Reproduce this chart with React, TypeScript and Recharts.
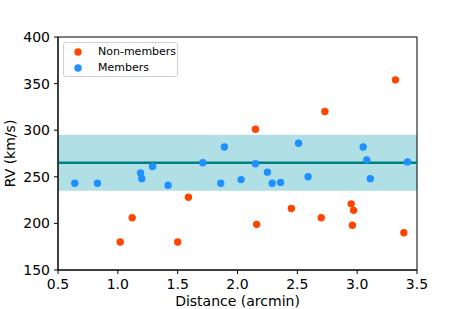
import React from 'react';
import {
  ScatterChart,
  Scatter,
  XAxis,
  YAxis,
  ReferenceArea,
  ReferenceLine,
  Legend,
} from 'recharts';

// values
const nonMemberDistance = [1.02, 1.12, 1.5, 1.59, 2.15, 2.16, 2.45, 2.7, 2.73, 2.95, 2.97, 2.96, 3.32, 3.39];
const nonMemberRV = [180, 206, 180, 228, 301, 199, 216, 206, 320, 221, 214, 198, 354, 190];

const memberDistance = [0.64, 0.83, 1.19, 1.2, 1.29, 1.42, 1.71, 1.86, 1.89, 2.03, 2.15, 2.25, 2.29, 2.36, 2.51, 2.59, 3.05, 3.08, 3.11, 3.42];
const memberRV = [243, 243, 254, 248, 261, 241, 265, 243, 282, 247, 264, 255, 243, 244, 286, 250, 282, 268, 248, 266];

const xTicks = [0.5, 1.0, 1.5, 2.0, 2.5, 3.0, 3.5];
const yTicks = [150, 200, 250, 300, 350, 400];

const meanRV = 265;
const bandLow = 235;
const bandHigh = 295;

const NON_COLOR = '#FF4500';
const MEM_COLOR = '#1E90FF';
const FONT = 'DejaVu Sans, sans-serif';

const nonMembers = nonMemberDistance.map((d, i) => ({ x: d, y: nonMemberRV[i] }));
const members = memberDistance.map((d, i) => ({ x: d, y: memberRV[i] }));

const dot = (color: string) => (props: any) =>
  <circle cx={props.cx} cy={props.cy} r={3.7} fill={color} />;

const legendItems = [
  { name: 'Non-members', color: NON_COLOR },
  { name: 'Members', color: MEM_COLOR },
];

const LegendBox = () => (
  <div
    style={{
      width: 115,
      height: 35,
      background: '#fff',
      border: '1px solid #d0d0d0',
      borderRadius: 3,
      boxSizing: 'border-box',
      fontFamily: FONT,
      fontSize: 11,
      lineHeight: '16px',
      color: '#000',
      paddingTop: 1,
      whiteSpace: 'nowrap',
    }}
  >
    {legendItems.map((it) => (
      <div key={it.name} style={{ display: 'flex', alignItems: 'center', height: 16 }}>
        <svg width={34} height={16} style={{ flexShrink: 0 }}>
          <circle cx={14} cy={8} r={3.7} fill={it.color} />
        </svg>
        <span>{it.name}</span>
      </div>
    ))}
  </div>
);

export default function App() {
  const tickStyle = { fontFamily: FONT, fontSize: 14, fill: '#000' };
  return (
    <div style={{ position: 'absolute', left: 0, top: 0, width: 463, height: 309, background: '#fff' }}>
      <ScatterChart width={463} height={309} margin={{ top: 37, right: 46, bottom: 0, left: 0 }}>
        <XAxis
          type="number"
          dataKey="x"
          domain={[0.5, 3.5]}
          ticks={xTicks}
          tickFormatter={(v: number) => v.toFixed(1)}
          height={39}
          tickSize={4}
          tickMargin={5}
          stroke="#000"
          tick={tickStyle}
          allowDataOverflow
          label={{ value: 'Distance (arcmin)', position: 'insideBottom', offset: 3, style: { fontFamily: FONT, fontSize: 14, fill: '#000' } }}
        />
        <YAxis
          type="number"
          dataKey="y"
          domain={[150, 400]}
          ticks={yTicks}
          width={58}
          tickSize={4}
          tickMargin={4}
          stroke="#000"
          tick={tickStyle}
          allowDataOverflow
          label={{ value: 'RV (km/s)', angle: -90, position: 'insideLeft', offset: 10, style: { textAnchor: 'middle', fontFamily: FONT, fontSize: 14, fill: '#000' } }}
        />
        <ReferenceArea y1={bandLow} y2={bandHigh} x1={0.5} x2={3.5} fill="#B0E0E6" fillOpacity={1} stroke="none" />
        <ReferenceLine y={meanRV} stroke="#008080" strokeWidth={2.6} />
        <Scatter name="Non-members" data={nonMembers} fill={NON_COLOR} shape={dot(NON_COLOR)} isAnimationActive={false} />
        <Scatter name="Members" data={members} fill={MEM_COLOR} shape={dot(MEM_COLOR)} isAnimationActive={false} />
        <ReferenceArea x1={0.5} x2={3.5} y1={150} y2={400} fill="none" stroke="#000" strokeWidth={1} />
        <Legend
          layout="vertical"
          align="center"
          verticalAlign="middle"
          wrapperStyle={{ left: 63, top: 42, width: 115 }}
          content={() => <LegendBox />}
        />
      </ScatterChart>
    </div>
  );
}
